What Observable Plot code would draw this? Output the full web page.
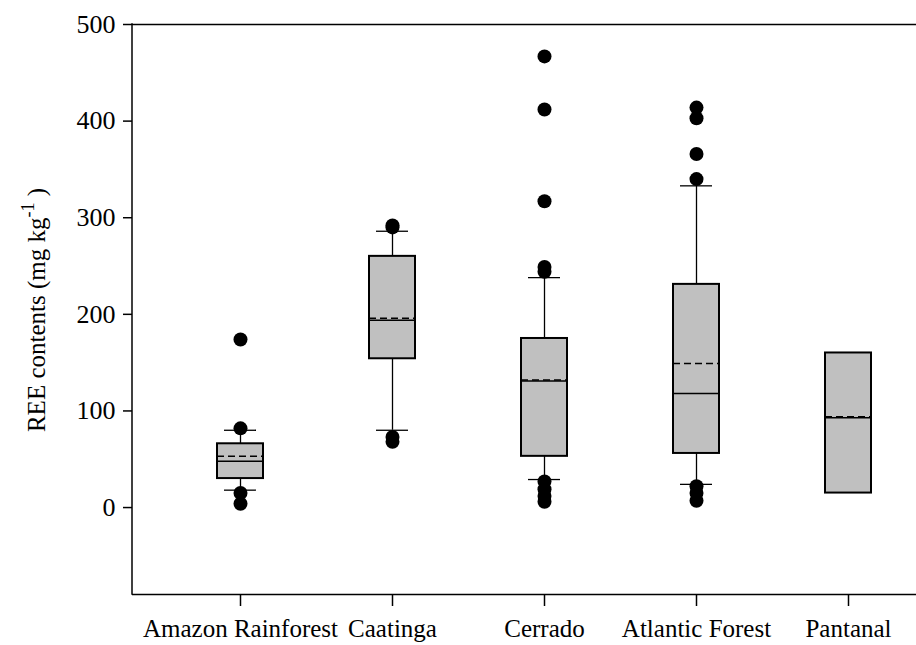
<!DOCTYPE html>
<html><head><meta charset="utf-8">
<script src="https://cdn.jsdelivr.net/npm/d3@7"></script>
<script src="https://cdn.jsdelivr.net/npm/@observablehq/plot@0.6"></script>
<style>body{margin:0;background:#fff} svg{display:block}</style>
</head><body><div id="chart"></div>
<script>
const categories = ["Amazon Rainforest", "Caatinga", "Cerrado", "Atlantic Forest", "Pantanal"];
const q1 = [30, 154, 53, 56, 15];
const median = [48, 194, 131, 118, 93];
const mean = [53, 196, 132, 149, 94];
const q3 = [66, 260, 175, 231, 160];
const whiskerLow = [18, 80, 29, 24, null];
const whiskerHigh = [80, 286, 238, 333, null];
const outliers = [
  [174, 82, 15, 4],
  [292, 290, 73, 68],
  [467, 412, 317, 249, 244, 27, 19, 12, 6],
  [414, 403, 366, 340, 22, 15, 7],
  []
];
const yTicks = [0, 100, 200, 300, 400, 500];

const boxes = categories.map((c, i) => ({c, q1: q1[i], median: median[i], mean: mean[i], q3: q3[i], lo: whiskerLow[i], hi: whiskerHigh[i]}));
const whiskers = boxes.filter(d => d.lo != null);
const pts = categories.flatMap((c, i) => outliers[i].map(v => ({c, v})));

const plot = Plot.plot({
  width: 916, height: 645,
  marginLeft: 132, marginRight: 0, marginTop: 24, marginBottom: 51,
  style: {fontFamily: "Liberation Serif", fontSize: "25px", color: "black", background: "white"},
  x: {type: "band", domain: categories, range: [162.6, 926.4], padding: 0, label: null},
  y: {domain: [-90, 500], label: null},
  marks: [
    Plot.ruleY([500, -90], {stroke: "black", strokeWidth: 1.5}),
    Plot.axisY({ticks: yTicks, tickSize: 9, tickPadding: 8, strokeWidth: 1.5, fontSize: 26, label: null}),
    Plot.axisX({tickSize: 12, tickPadding: 13, strokeWidth: 1.5, label: null}),
    Plot.ruleX(whiskers, {x: "c", y1: "lo", y2: "q1", stroke: "black", strokeWidth: 1.3}),
    Plot.ruleX(whiskers, {x: "c", y1: "q3", y2: "hi", stroke: "black", strokeWidth: 1.3}),
    Plot.tickY(whiskers, {x: "c", y: "lo", insetLeft: 60, insetRight: 60, stroke: "black", strokeWidth: 1.3}),
    Plot.tickY(whiskers, {x: "c", y: "hi", insetLeft: 60, insetRight: 60, stroke: "black", strokeWidth: 1.3}),
    Plot.barY(boxes, {x: "c", y1: "q1", y2: "q3", fill: "#c0c0c0", stroke: "black", strokeWidth: 2, insetLeft: 53, insetRight: 53}),
    Plot.tickY(boxes, {x: "c", y: "median", insetLeft: 53, insetRight: 53, stroke: "black", strokeWidth: 1.5}),
    Plot.tickY(boxes, {x: "c", y: "mean", insetLeft: 53, insetRight: 53, stroke: "black", strokeDasharray: "7,4", strokeWidth: 1.5}),
    Plot.dot(pts, {x: "c", y: "v", r: 7, fill: "black", stroke: "none"})
  ]
});

const svg = d3.select(plot);
const ys = plot.scale("y");
const yDom = ys.domain;
svg.append("line")
  .attr("x1", 132).attr("x2", 132)
  .attr("y1", ys.apply(yDom[0]) + 0.75).attr("y2", ys.apply(yDom[1]) - 0.75)
  .attr("stroke", "black").attr("stroke-width", 1.5);

const t = svg.append("text")
  .attr("transform", "translate(45,310) rotate(-90)")
  .attr("text-anchor", "middle")
  .attr("font-family", "Liberation Serif")
  .attr("font-size", 25)
  .attr("fill", "black");
t.append("tspan").text("REE contents (mg kg");
t.append("tspan").attr("dy", -11).attr("font-size", 18).text("-1");
t.append("tspan").attr("dy", 11).text(" )");

document.getElementById("chart").appendChild(plot);
</script>
</body></html>
